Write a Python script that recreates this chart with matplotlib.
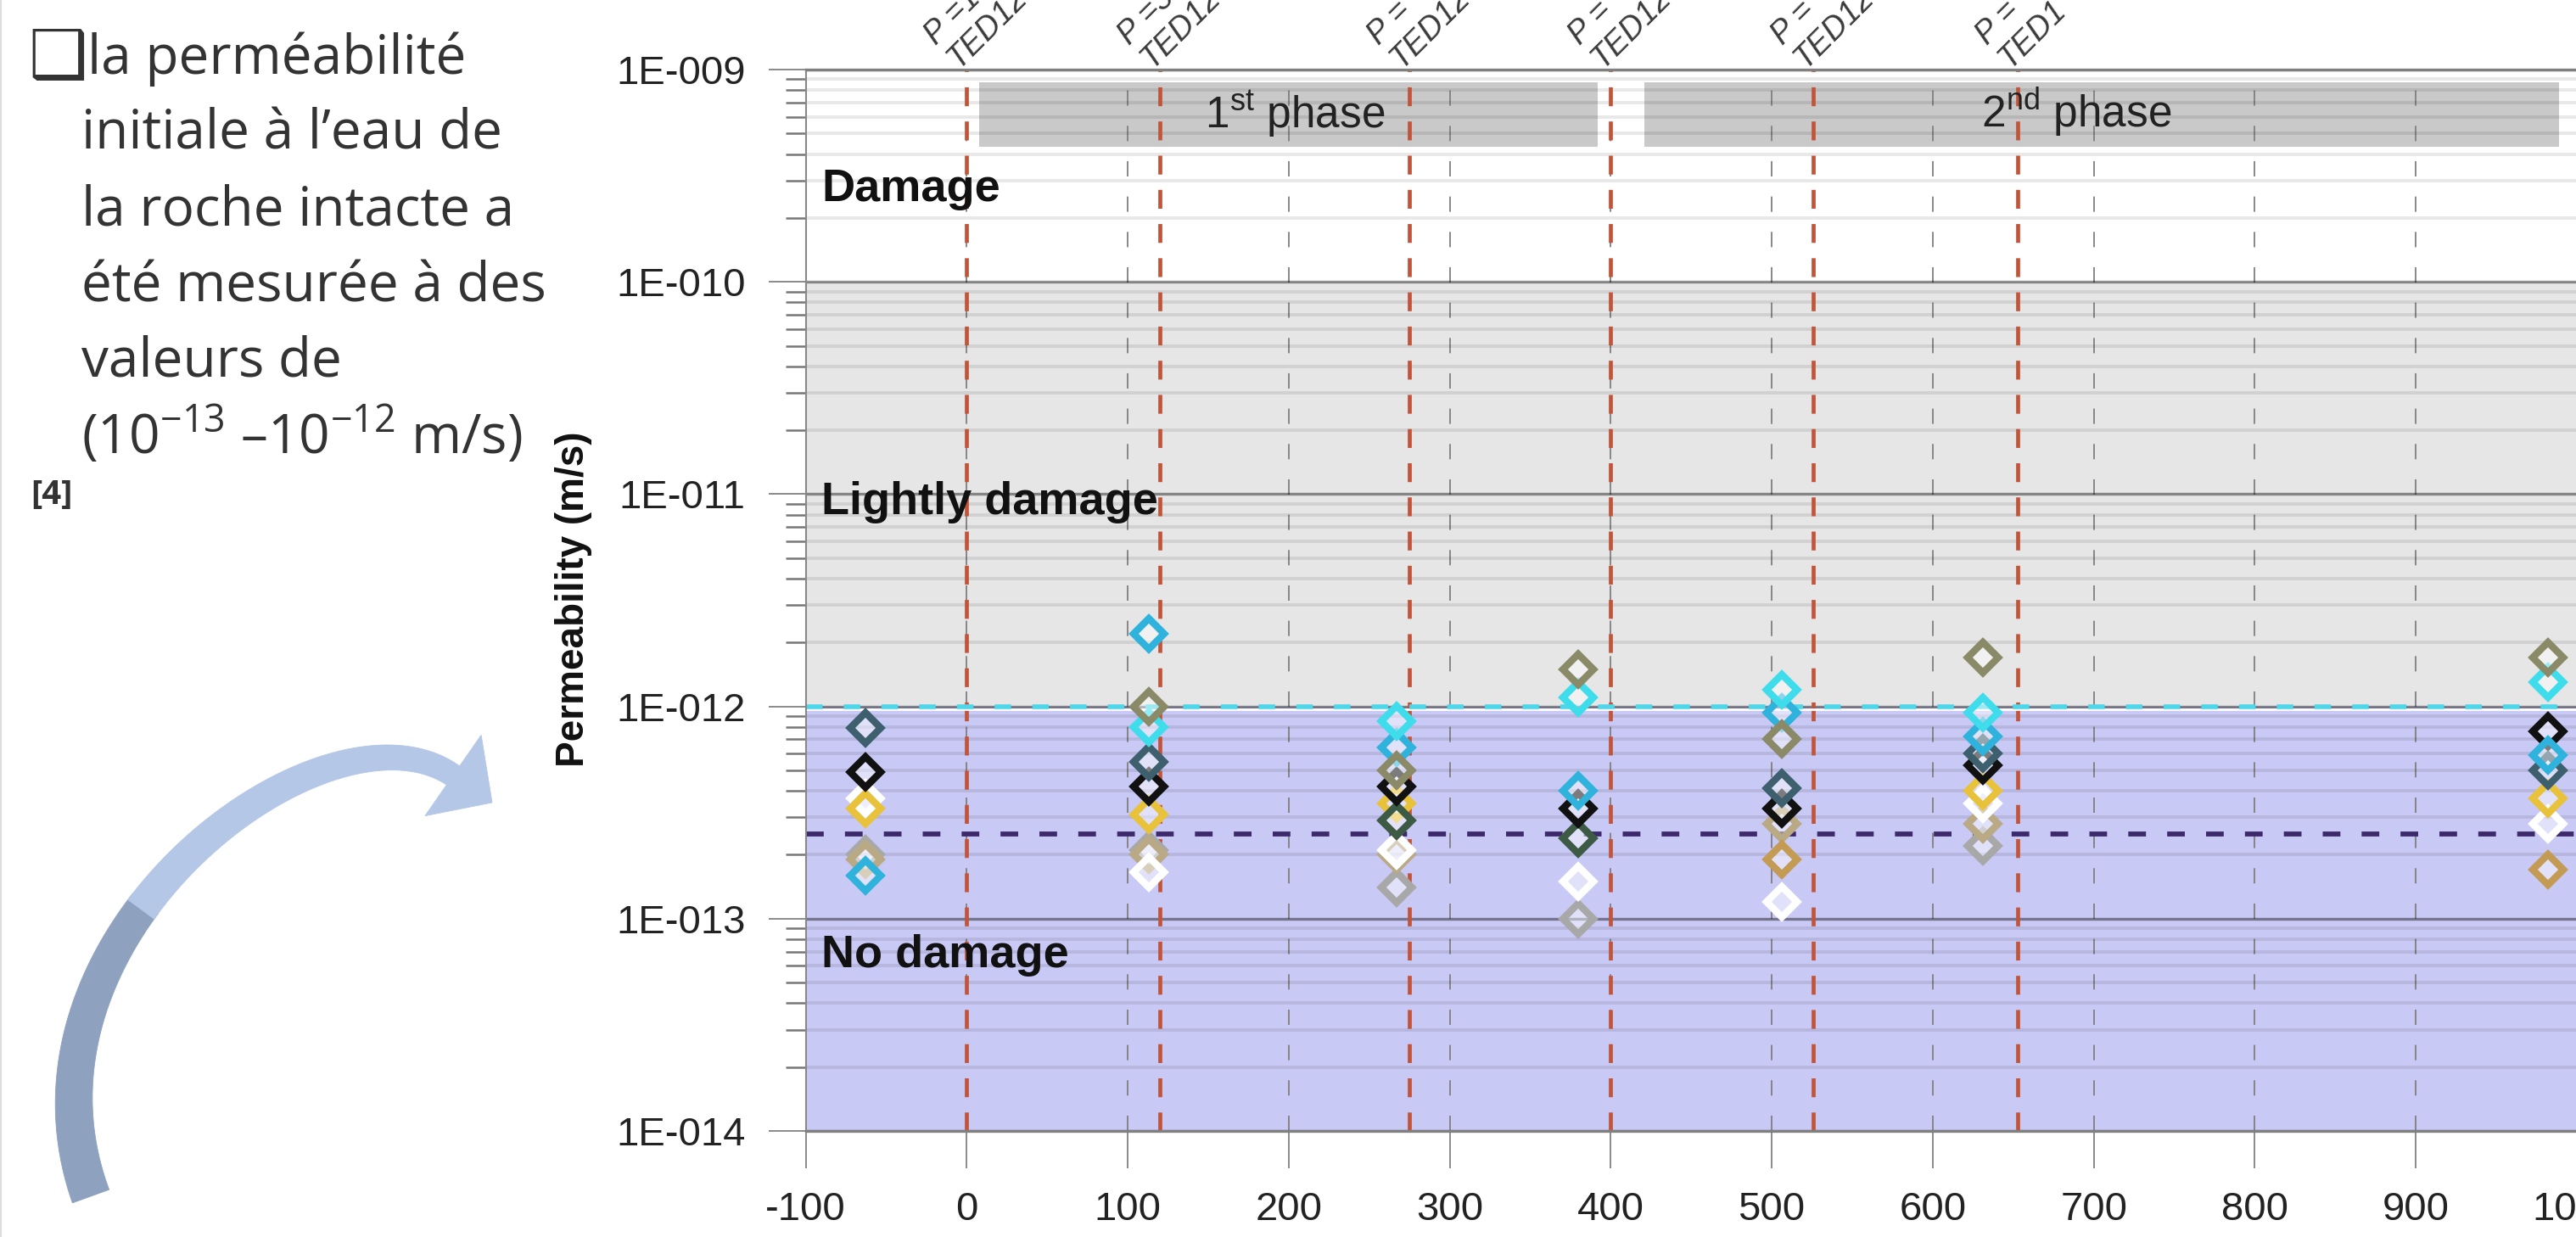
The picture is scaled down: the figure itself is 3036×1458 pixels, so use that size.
import numpy as np
import matplotlib
matplotlib.use("Agg")
import matplotlib.pyplot as plt
from matplotlib.patches import Polygon, Rectangle
from matplotlib.ticker import FixedLocator, FixedFormatter, LogLocator, NullFormatter

plt.rcParams["lines.scale_dashes"] = False
plt.rcParams["mathtext.fontset"] = "custom"
plt.rcParams["mathtext.rm"] = "Liberation Sans"
plt.rcParams["font.family"] = ["Liberation Sans", "DejaVu Sans"]

W, H = 3036, 1458

# ---------------- data ----------------
nan = np.nan
days = [-63, 113, 267, 380, 506, 631, 982]
perm_cyan = [nan, 8.0e-13, 8.5e-13, 1.1e-12, 1.2e-12, 9.3e-13, 1.3e-12]
perm_sky = [1.6e-13, 2.2e-12, 6.4e-13, 4.0e-13, 9.3e-13, 7.2e-13, 5.9e-13]
perm_slate = [7.9e-13, 5.5e-13, nan, nan, 4.1e-13, 6.0e-13, 5.0e-13]
perm_black = [4.9e-13, 4.2e-13, 4.2e-13, 3.3e-13, 3.3e-13, 5.3e-13, 7.6e-13]
perm_yellow = [3.3e-13, 3.1e-13, 3.5e-13, nan, nan, 4.0e-13, 3.7e-13]
perm_white = [3.7e-13, 1.65e-13, 2.1e-13, 1.5e-13, 1.2e-13, 3.5e-13, 2.8e-13]
perm_grey = [2.0e-13, 2.1e-13, 1.4e-13, 1.0e-13, nan, 2.2e-13, nan]
perm_olive = [nan, 1.0e-12, 5.0e-13, 1.5e-12, 7.0e-13, 1.7e-12, 1.7e-12]
perm_green = [nan, nan, 2.9e-13, 2.4e-13, nan, nan, nan]
perm_tan = [1.9e-13, 2.0e-13, 2.0e-13, nan, 2.8e-13, 2.8e-13, nan]
perm_brown = [nan, nan, nan, nan, 1.9e-13, nan, 1.7e-13]

intact_limit = 1e-12
damage_limit = 1e-10
mean_intact = 2.5e-13

stage_days = [0, 120, 275, 400, 526, 653]
stage_p = ["P =1", "P =30", "P =", "P =", "P =", "P ="]
stage_ted = ["TED12", "TED120", "TED12", "TED12", "TED12", "TED1"]

phase_start = [8, 421]
phase_end = [392, 989]
phase_names = ["1$^{\\mathdefault{st}}$ phase", "2$^{\\mathdefault{nd}}$ phase"]
phase_text_x = [204, 689]

xticks = list(range(-100, 1001, 100))
ytick_vals = [1e-14, 1e-13, 1e-12, 1e-11, 1e-10, 1e-9]
ytick_labels = ["1E-014", "1E-013", "1E-012", "1E-011", "1E-010", "1E-009"]

zone_labels = ["Damage", "Lightly damage", "No damage"]
zone_label_y = [10 ** -9.62, 10 ** -11.094, 10 ** -13.229]

slide_lines = ["la perméabilité",
               "initiale à l’eau de",
               "la roche intacte a",
               "été mesurée à des",
               "valeurs de",
               "(10$^{\\mathdefault{-13}}$ –10$^{\\mathdefault{-12}}$ m/s)"]
ref_label = "[4]"

# ---------------- figure ----------------
fig = plt.figure(figsize=(W / 100, H / 100), dpi=100)
fig.patch.set_facecolor("white")


def fx(px):
    return px / W


def fy(py):
    return 1 - py / H


ax = fig.add_axes([fx(949.5), fy(1333), (3037 - 949.5) / W, (1333 - 82) / H])
ax.set_yscale("log")
ax.set_xlim(-100, 1000)
ax.set_ylim(1e-14, 1e-9)
ax.set_facecolor("white")

# background zones
ax.axhspan(1e-14, intact_limit, color="#c9c9f6", lw=0, zorder=0.1)
ax.axhspan(intact_limit, damage_limit, color="#e6e6e6", lw=0, zorder=0.1)

# phase bars
for s, e, name, tx in zip(phase_start, phase_end, phase_names, phase_text_x):
    ax.add_patch(Rectangle((s, 10 ** -9.364), e - s, 10 ** -9.06 - 10 ** -9.364,
                           facecolor="#c9c9c9", edgecolor="none", zorder=0.2))
    ax.text(tx, 10 ** -9.272, name, fontsize=37, color="#222222",
            ha="center", va="baseline", zorder=5)

# grids
ax.yaxis.set_major_locator(FixedLocator(ytick_vals))
ax.yaxis.set_major_formatter(FixedFormatter(ytick_labels))
ax.yaxis.set_minor_locator(LogLocator(base=10, subs=np.arange(2, 10)))
ax.yaxis.set_minor_formatter(NullFormatter())
ax.set_xticks(xticks)
ax.set_xticklabels([str(v) for v in xticks])
ax.grid(True, which="major", axis="y", color="black", alpha=0.42, lw=2.4)
ax.grid(True, which="minor", axis="y", color="black", alpha=0.09, lw=2.8)
ax.grid(True, which="major", axis="x", color="#7f7f7f", lw=1.3, ls=(0, (13, 17)))

ax.tick_params(axis="both", which="major", length=32, width=1.2, color="#777777",
               pad=19, labelsize=34, labelcolor="#222222")
ax.tick_params(axis="y", which="minor", length=17, width=1.8, color="#777777")
ax.tick_params(axis="x", which="minor", length=0)

ax.spines["left"].set_color("#888888")
ax.spines["left"].set_linewidth(1.5)
for side in ["bottom", "top"]:
    ax.spines[side].set_color("#808080")
    ax.spines[side].set_linewidth(2.4)
ax.spines["right"].set_visible(False)

# stage lines
for d in stage_days:
    ax.axvline(d, color="#c2543a", lw=3.4, ls=(0, (16, 13)), zorder=2)

# threshold lines
ax.axhline(10 ** -12.012, color="white", lw=2.0, zorder=2)
ax.axhline(intact_limit, color="#4fd6e8", lw=4.0, ls=(0, (14, 18)), zorder=2.1)
ax.axhline(mean_intact, color="#3d2a6b", lw=4.2, ls=(0, (15, 18)), zorder=2.1)

# data points
series = [
    (perm_grey, "#a8a8a8"),
    (perm_tan, "#b9a985"),
    (perm_brown, "#c39b55"),
    (perm_white, "#ffffff"),
    (perm_yellow, "#e8c23a"),
    (perm_green, "#3c5a44"),
    (perm_black, "#111111"),
    (perm_slate, "#3d5f6e"),
    (perm_sky, "#2fb3dc"),
    (perm_cyan, "#3fdcec"),
    (perm_olive, "#8a8a68"),
]
for vals, col in series:
    ax.plot(days, vals, ls="none", marker="D", ms=18.5, mew=6.0,
            mec=col, mfc=(1, 1, 1, 0.45), zorder=3)

# zone labels
for lab, yv in zip(zone_labels, zone_label_y):
    ax.text(-90.3, yv, lab, fontsize=39, fontweight="bold", color="#111111",
            ha="left", va="baseline", zorder=5)

# stage labels at top (cut by the top edge as in the source)
for d, p, t in zip(stage_days, stage_p, stage_ted):
    ax.annotate(p + "\n" + t, xy=(d, 1e-9), xycoords="data",
                xytext=(-3, -3), textcoords="offset points",
                rotation=45, rotation_mode="anchor", ha="left", va="bottom",
                fontsize=27, style="italic", color="#3a3a3a",
                linespacing=1.05, annotation_clip=False)

# y label
fig.text(fx(676), fy(706), "Permeability (m/s)", rotation=90, fontsize=33,
         fontweight="bold", color="#111111", ha="center", va="center")

# ---------------- slide text ----------------
fig.text(fx(33), fy(90), "\u2751", fontsize=56, color="#333333",
         family=["DejaVu Sans"], ha="left", va="baseline")
baselines = [87, 176, 266, 355, 444, 534]
for i, (line, b) in enumerate(zip(slide_lines, baselines)):
    x0 = 103 if i == 0 else 96
    fig.text(fx(x0), fy(b), line, fontsize=46, color="#333333",
             family=["Open Sans", "DejaVu Sans"], ha="left", va="baseline")
fig.text(fx(36), fy(594), ref_label, fontsize=29, fontweight="bold",
         color="#333333", family=["Open Sans", "DejaVu Sans"],
         ha="left", va="baseline")

# left border of the slide
fig.add_artist(plt.Line2D([fx(1), fx(1)], [0, 1], transform=fig.transFigure,
                          color="#dddddd", lw=1.5))

# ---------------- curved arrow (tapered, two-tone) ----------------
P0 = np.array([107.0, 1410.0])
d0 = np.array([-0.34, -0.94])
P3 = np.array([534.0, 914.0])
d3 = np.array([0.82, 0.57])
d3 = d3 / np.linalg.norm(d3)
P1 = P0 + 330 * d0
P2 = P3 - 180 * d3


def bez(t):
    t = np.asarray(t)[:, None]
    return ((1 - t) ** 3) * P0 + 3 * ((1 - t) ** 2) * t * P1 \
        + 3 * (1 - t) * t ** 2 * P2 + t ** 3 * P3


def bez_d(t):
    t = np.asarray(t)[:, None]
    return 3 * (1 - t) ** 2 * (P1 - P0) + 6 * (1 - t) * t * (P2 - P1) \
        + 3 * t ** 2 * (P3 - P2)


def body(t0, t1):
    t = np.linspace(t0, t1, 80)
    c = bez(t)
    dv = bez_d(t)
    dv = dv / np.linalg.norm(dv, axis=1)[:, None]
    n = np.column_stack([-dv[:, 1], dv[:, 0]])
    w = (46 + (27 - 46) * t)[:, None] / 2
    left = c + n * w
    right = c - n * w
    pts = np.vstack([left, right[::-1]])
    return [(fx(p[0]), fy(p[1])) for p in pts]


nrm = np.array([-d3[1], d3[0]])
head = [P3 + nrm * 58, P3 + d3 * 56, P3 - nrm * 58]
head = [(fx(p[0]), fy(p[1])) for p in head]

for poly, col in [(body(0.0, 0.41), "#8ea2bf"), (body(0.40, 1.0), "#b4c7e7"),
                  (head, "#b4c7e7")]:
    fig.add_artist(Polygon(poly, closed=True, transform=fig.transFigure,
                           facecolor=col, edgecolor=col, lw=0.6))

fig.savefig("out.png", dpi=100)
